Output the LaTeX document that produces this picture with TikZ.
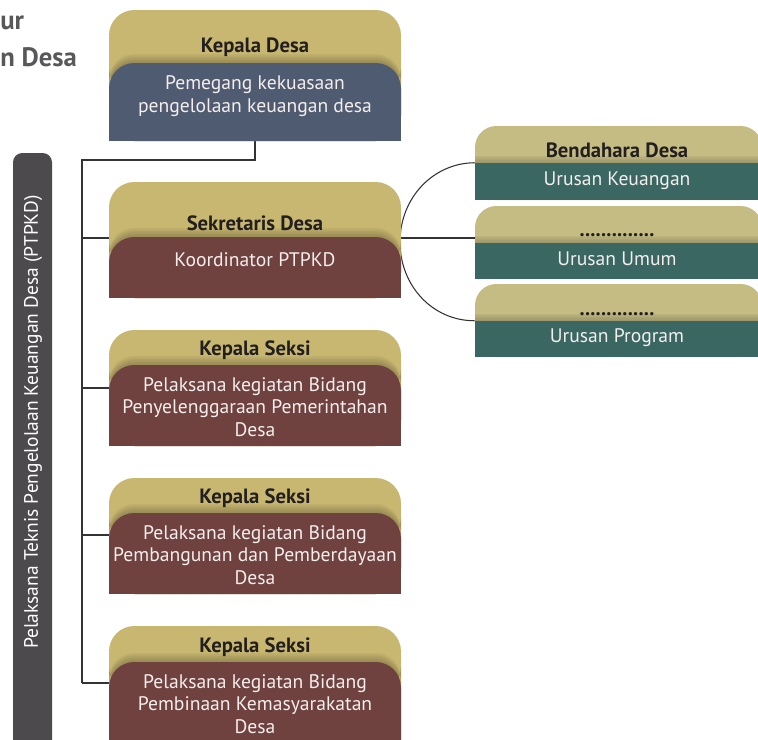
\documentclass[tikz,border=0pt]{standalone}
\usepackage{fontspec}
\setmainfont{PT Sans}
\usetikzlibrary{fit,backgrounds}
\definecolor{goldL}{HTML}{C8B771}
\definecolor{goldR}{HTML}{C4BC83}
\definecolor{blueC}{HTML}{4F5B71}
\definecolor{brownC}{HTML}{6F4240}
\definecolor{greenC}{HTML}{3A6762}
\definecolor{barC}{HTML}{4C4A4C}
\definecolor{lineC}{HTML}{333333}
\definecolor{titleC}{HTML}{231F20}
\definecolor{headC}{HTML}{58585A}
\definecolor{txtC}{HTML}{F4EEEC}
\newcommand\ltbox[5]{%
  \fill[goldL,rounded corners=19pt] (109,#2) rectangle (401,#4);
  \foreach \i in {1,...,6}{\fill[black,opacity=0.04,rounded corners=19pt] (109,#3-1.5*\i) rectangle (401,#3+30);}
  \fill[#5,rounded corners=19pt] (109,#3) rectangle (401,#4);
  \fill[#5] (109,#3+30) rectangle (401,#4);
  \node[fit={(109,#3) (401,#4)},inner sep=0pt] (#1) {};
}
\newcommand\rtbox[4]{%
  \fill[goldR,rounded corners=16pt] (475,#2) rectangle (762,#4);
  \foreach \i in {1,...,5}{\fill[black,opacity=0.04] (475,#3-1.5*\i) rectangle (762,#3+5);}
  \fill[greenC] (475,#3) rectangle (762,#4);
  \node[fit={(475,#3) (762,#4)},inner sep=0pt] (#1) {};
}
\tikzset{
  hd/.style={font=\bfseries\fontsize{15.5}{18}\selectfont, text=titleC, inner sep=0pt},
  bd/.style={font=\fontsize{14.7}{16.8}\selectfont, text=txtC, align=center, inner sep=0pt},
  conn/.style={draw=lineC, line width=0.8pt}
}
\begin{document}
\begin{tikzpicture}[x=0.75pt,y=-0.75pt]
\useasboundingbox (0,0) rectangle (758,740);
\clip (0,0) rectangle (758,740);
% title fragments
\node[anchor=base west,inner sep=0pt,font=\bfseries\fontsize{20}{24}\selectfont,text=headC] (t1txt) at (0,29) {ur};
\node[anchor=base west,inner sep=0pt,font=\bfseries\fontsize{20}{24}\selectfont,text=headC] (t2txt) at (0,66) {n Desa};
% side bar
\fill[barC,rounded corners=7pt] (13,153) rectangle (52,780);
\node[rotate=90,text=white,inner sep=0pt,font=\fontsize{14.6}{16}\selectfont] (side) at (33,422) {Pelaksana Teknis Pengelolaan Keuangan Desa (PTPKD)};
% left boxes
\ltbox{kd}{10}{63}{141}{blueC}
\ltbox{sek}{182}{237}{298}{brownC}
\ltbox{ks1}{330}{365}{446}{brownC}
\ltbox{ks2}{478}{513}{594}{brownC}
\ltbox{ks3}{626}{662}{780}{brownC}
% right boxes
\rtbox{b1}{126}{163}{200}
\rtbox{b2}{206}{243}{279}
\rtbox{b3}{284}{321}{357}
% texts
\node[hd] (kdh) at (255,47) {Kepala Desa};
\node[bd] (kdt) at (255,96) {Pemegang kekuasaan\\pengelolaan keuangan desa};
\node[hd] (sekh) at (255,223) {Sekretaris Desa};
\node[bd] (sekt) at (255,260) {Koordinator PTPKD};
\node[hd] (ks1h) at (255,350) {Kepala Seksi};
\node[bd] (ks1t) at (255,407) {Pelaksana kegiatan Bidang\\Penyelenggaraan Pemerintahan\\Desa};
\node[hd] (ks2h) at (255,498) {Kepala Seksi};
\node[bd] (ks2t) at (255,555) {Pelaksana kegiatan Bidang\\Pembangunan dan Pemberdayaan\\Desa};
\node[hd] (ks3h) at (255,647) {Kepala Seksi};
\node[bd] (ks3t) at (255,704) {Pelaksana kegiatan Bidang\\Pembinaan Kemasyarakatan\\Desa};
\node[hd] (b1h) at (617,150) {Bendahara Desa};
\node[bd] (b1t) at (617,181) {Urusan Keuangan};
\node[hd,anchor=base] (b2h) at (617,236) {..............};
\node[bd] (b2t) at (617,259) {Urusan Umum};
\node[hd,anchor=base] (b3h) at (617,315) {..............};
\node[bd] (b3t) at (617,338) {Urusan Program};
% connectors
\coordinate (t0) at (82,160);
\coordinate (ta) at (82,238);
\coordinate (tb) at (82,388);
\coordinate (tc) at (82,535);
\coordinate (td) at (82,683);
\begin{scope}[on background layer]
\draw[conn] (kd.south) |- (t0) -- (td);
\draw[conn] (ta) -- (ta -| sek.west);
\draw[conn] (tb) -- (tb -| ks1.west);
\draw[conn] (tc) -- (tc -| ks2.west);
\draw[conn] (td) -- (td -| ks3.west);
\draw[conn] (sek.east |- ta) -- (ta -| b2.west);
\draw[conn] (b1.north west) .. controls (433,163) and (400,198) .. (400,242) .. controls (400,286) and (433,321) .. (b3.north west);
\end{scope}
\end{tikzpicture}
\end{document}
